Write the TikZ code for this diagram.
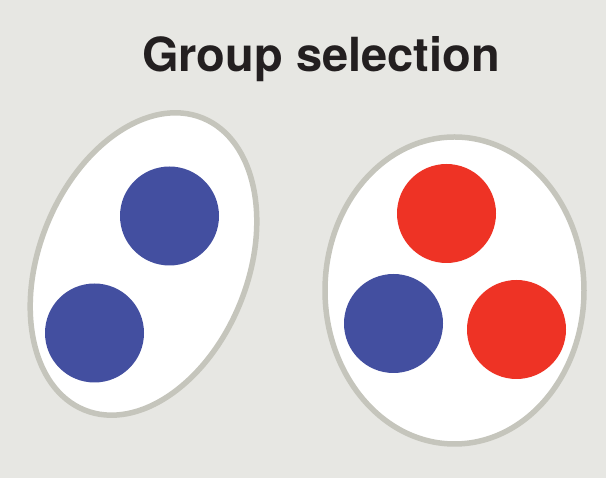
\documentclass[tikz,border=0pt]{standalone}
\usepackage{fontspec}
\setmainfont{TeX Gyre Heros}
\definecolor{bg}{HTML}{E7E7E3}
\definecolor{rim}{HTML}{C5C5BC}
\definecolor{myblue}{HTML}{434FA0}
\definecolor{myred}{HTML}{EE3325}
\definecolor{ink}{HTML}{231F20}
\tikzset{
  group/.style={draw=rim, fill=white, line width=5.5pt},
  ind/.style={circle, minimum size=99pt, inner sep=0pt, draw=none},
  blueind/.style={ind, fill=myblue},
  redind/.style={ind, fill=myred}
}
\begin{document}
\begin{tikzpicture}[x=1pt,y=1pt]
\fill[bg] (0,0) rectangle (606,478);
\useasboundingbox (0,0) rectangle (606,478);
\node[anchor=base, text=ink, font=\fontsize{47}{50}\selectfont\bfseries] (title) at (321,406) {Group selection};
\draw[group, rotate around={-22:(143.5,214)}] (143.5,214) ellipse [x radius=104.3, y radius=157.5];
\draw[group] (454.5,187.5) ellipse [x radius=129.5, y radius=153.5];
\node[blueind] (l1) at (169.5,262) {};
\node[blueind] (l2) at (94.5,145) {};
\node[redind] (r1) at (446.5,264.5) {};
\node[blueind] (r2) at (393.5,154.5) {};
\node[redind] (r3) at (516.5,148.5) {};
\end{tikzpicture}
\end{document}
